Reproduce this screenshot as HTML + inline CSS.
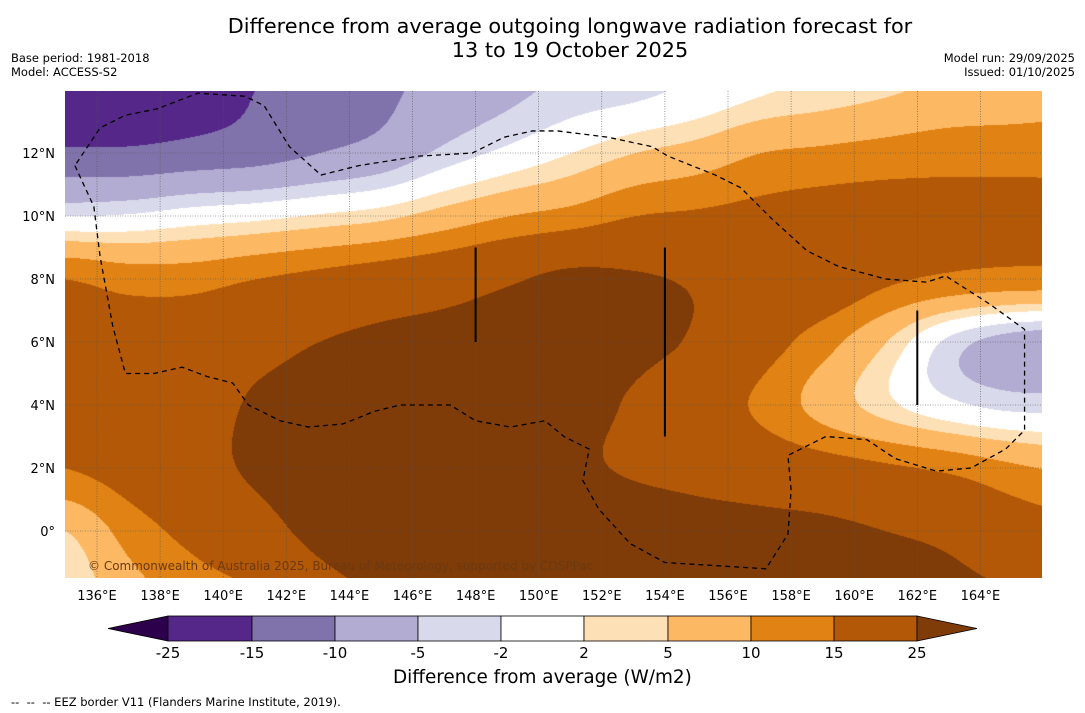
<!DOCTYPE html>
<html><head><meta charset="utf-8">
<style>
body{margin:0;background:#fff;font-family:"DejaVu Sans","Liberation Sans",sans-serif;}
#wrap{position:relative;width:1085px;height:713px;overflow:hidden;background:#fff}
.t{position:absolute;white-space:nowrap;color:#000}
</style></head>
<body>
<div id="wrap">
<div class="t" style="left:0;width:1140px;top:14px;text-align:center;font-size:20.8px;line-height:24px">Difference from average outgoing longwave radiation forecast for<br>13 to 19 October 2025</div>
<div class="t" style="left:11px;top:51px;font-size:11.5px;line-height:14px">Base period: 1981-2018<br>Model: ACCESS-S2</div>
<div class="t" style="right:10px;top:51px;font-size:11.5px;line-height:14px;text-align:right">Model run: 29/09/2025<br>Issued: 01/10/2025</div>
<svg id="svg" width="1085" height="713" style="position:absolute;left:0;top:0"></svg>
<div class="t" style="left:393px;top:667px;font-size:18.4px">Difference from average (W/m2)</div>
<div class="t" style="left:11px;top:695px;font-size:11.5px">-- &nbsp;-- &nbsp;-- EEZ border V11 (Flanders Marine Institute, 2019).</div>
</div>
<script>
const lons=[135,137,139,141,143,145,147,149,151,153,155,157,159,161,163,165,167];
const lats=[14,12,10,8,6,4,2,0,-2];
const row14=[-22,-20,-18,-15,-12,-11,-8,-6,-4,-3,-1,1.5,3,4.5,6,7,8];
const row12=[-14,-14,-13,-12,-10,-8,-4,-1,2,5,7,10,11,12,13,13,13];
const row10=[-2,-1.5,0,1,2.5,4,7,10,12,15,16,17,18,18,17,17,17];
const row8=[15,13,13,15,17,19,21,24,27,26,24,21,20,16,14,13,13];
const row6=[17,18,19,22,25,27,28,29,29,27,24,18,12,5,-3,-7,-8];
const row4=[18,19,21,26,28,30,30,30,28,24,19,14,8,3,-1,-3,-3];
const row2=[15,18,22,26,28,30,32,31,27,24,22,20,18,16,14,11,9];
const row0=[5,12,17,22,27,30,32,33,33,31,29,28,27,25,23,19,17];
const rowM2=[2,8,12,15,22,26,30,32,33,33,32,31,30,29,27,25,22];
const grid=[row14,row12,row10,row8,row6,row4,row2,row0,rowM2];
const levels=[-25,-15,-10,-5,-2,2,5,10,15,25];
const colors=['#2d004b','#542788','#8073ac','#b2abd2','#d8daeb','#ffffff','#fee0b6','#fdb863','#e08214','#b35806','#7f3b08'];
const lonTicks=[136,138,140,142,144,146,148,150,152,154,156,158,160,162,164];
const latTicks=[0,2,4,6,8,10,12];
const eezLon=[135.3,135.9,136.1,136.5,136.9,137.8,138.7,139.5,140.3,140.8,141.8,142.7,143.8,144.8,145.6,147.2,148.0,149.1,150.2,150.8,151.6,151.4,151.9,152.9,154.0,157.2,157.9,158.0,157.9,159.1,160.4,161.3,162.6,163.7,164.8,165.4,165.4,164.3,162.9,162.3,161.0,159.5,158.5,157.4,156.4,155.6,154.1,153.6,152.2,150.6,149.8,148.9,147.9,146.2,144.3,143.1,142.1,141.3,140.7,139.2,137.9,136.9,136.1,135.3];
const eezLat=[11.6,10.3,8.7,6.5,5.0,5.0,5.2,4.9,4.7,4.0,3.5,3.3,3.4,3.8,4.0,4.0,3.5,3.3,3.5,3.0,2.6,1.6,0.7,-0.4,-1.0,-1.2,-0.1,1.3,2.4,3.0,2.9,2.3,1.9,2.0,2.6,3.2,6.4,7.2,8.1,7.9,8.0,8.4,8.9,9.9,10.9,11.3,11.9,12.2,12.5,12.7,12.7,12.5,12.0,11.9,11.6,11.3,12.2,13.5,13.8,13.9,13.4,13.2,12.8,11.6];

const X0=65,X1=1042,Y0=91,Y1=578;
const x=lon=>97+(lon-136)*31.55;
const y=lat=>531-lat*31.5;
const NS='http://www.w3.org/2000/svg';
const FF='DejaVu Sans, Liberation Sans, sans-serif';
const svg=document.getElementById('svg');
function mk(t,a,p){const e=document.createElementNS(NS,t);for(const k in a)e.setAttribute(k,a[k]);(p||svg).appendChild(e);return e;}

const cv=document.createElement('canvas');cv.width=X1-X0;cv.height=Y1-Y0;
cv.style.cssText='position:absolute;left:'+X0+'px;top:'+Y0+'px';


document.getElementById('wrap').insertBefore(cv,svg);
const ctx=cv.getContext('2d');const img=ctx.createImageData(cv.width,cv.height);
function cr(p0,p1,p2,p3,t){return 0.5*((2*p1)+(-p0+p2)*t+(2*p0-5*p1+4*p2-p3)*t*t+(-p0+3*p1-3*p2+p3)*t*t*t);}
function g(r,c){r=Math.max(0,Math.min(lats.length-1,r));c=Math.max(0,Math.min(lons.length-1,c));return grid[r][c];}
function val(lon,lat){
  const fc=(lon-lons[0])/(lons[1]-lons[0]),fr=(lats[0]-lat)/(lats[0]-lats[1]);
  const c=Math.floor(fc),r=Math.floor(fr),tc=fc-c,tr=fr-r;const rows=[];
  for(let i=-1;i<=2;i++)rows.push(cr(g(r+i,c-1),g(r+i,c),g(r+i,c+1),g(r+i,c+2),tc));
  return cr(rows[0],rows[1],rows[2],rows[3],tr);
}
const rgb=colors.map(h=>[parseInt(h.substr(1,2),16),parseInt(h.substr(3,2),16),parseInt(h.substr(5,2),16)]);
for(let py=0;py<cv.height;py++){const lat=(531-(py+Y0))/31.5;
  for(let px=0;px<cv.width;px++){const lon=136+(px+X0-97)/31.55;const v=val(lon,lat);
    let k=0;while(k<levels.length&&v>=levels[k])k++;const c=rgb[k];const o=(py*cv.width+px)*4;
    img.data[o]=c[0];img.data[o+1]=c[1];img.data[o+2]=c[2];img.data[o+3]=255;}}
ctx.putImageData(img,0,0);

lonTicks.forEach(L=>{const l=mk('line',{x1:x(L),x2:x(L),y1:Y0,y2:Y1,stroke:'#555','stroke-width':0.6,'stroke-dasharray':'1,1.5'});

const t=mk('text',{x:x(L),y:600,'text-anchor':'middle','font-size':13,'font-family':FF});t.textContent=L+'°E';
});
latTicks.forEach(L=>{const l=mk('line',{x1:X0,x2:X1,y1:y(L),y2:y(L),stroke:'#555','stroke-width':0.6,'stroke-dasharray':'1,1.5'});

const t=mk('text',{x:55,y:y(L)+5,'text-anchor':'end','font-size':13,'font-family':FF});t.textContent=L===0?'0°':L+'°N';
});

[[148,9,6],[154,9,3],[162,7,4]].forEach(s=>{const l=mk('line',{x1:x(s[0]),x2:x(s[0]),y1:y(s[1]),y2:y(s[2]),stroke:'#000','stroke-width':2});
});

const eez=mk('polyline',{points:eezLon.map((L,i)=>x(L)+','+y(eezLat[i])).join(' '),fill:'none',stroke:'#000','stroke-width':1.3,'stroke-dasharray':'5,4'});


const cp=mk('text',{x:88,y:570,'font-size':12,fill:'#6b3a10','font-family':FF});cp.textContent='© Commonwealth of Australia 2025, Bureau of Meteorology, supported by COSPPac';


const bx=[168,252,335,418,501,584,668,751,834,917],cy=616,ch=25;
const lt=mk('polygon',{points:`108,${cy+ch/2} 168,${cy} 168,${cy+ch}`,fill:colors[0],stroke:'#000','stroke-width':0.8});

for(let i=0;i<levels.length-1;i++){const r=mk('rect',{x:bx[i],y:cy,width:bx[i+1]-bx[i],height:ch,fill:colors[i+1],stroke:'#000','stroke-width':0.8});
}
const rt=mk('polygon',{points:`917,${cy} 977,${cy+ch/2} 917,${cy+ch}`,fill:colors[10],stroke:'#000','stroke-width':0.8});

levels.forEach((v,i)=>{const t=mk('text',{x:bx[i],y:658,'text-anchor':'middle','font-size':15,'font-family':FF});t.textContent=v;
});
</script>
</body></html>
